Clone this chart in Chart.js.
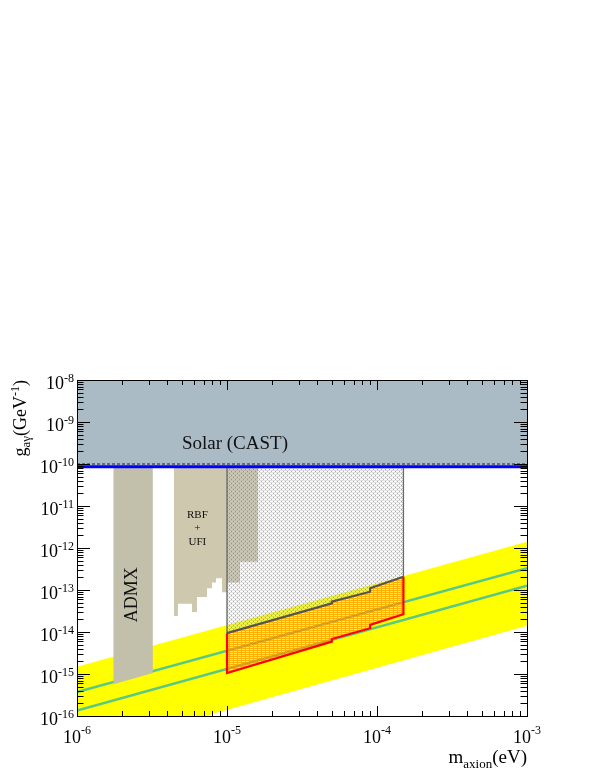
<!DOCTYPE html>
<html>
<head>
<meta charset="utf-8">
<script src="https://cdn.jsdelivr.net/npm/chart.js@4.4.1/dist/chart.umd.min.js"></script>
<style>
  html, body { margin: 0; padding: 0; background: #fff; }
  canvas { display: block; }
</style>
</head>
<body>
<canvas id="chart" width="599" height="776"></canvas>
<script>
// axis ranges (log10 decades)
const xDecades = [-6, -5, -4, -3];
const yDecades = [-16, -15, -14, -13, -12, -11, -10, -9, -8];

// solar limit (CAST)
const castLimit = 8.6e-11;
const castDashed = 1.0e-10;
const castTop = 1e-8;

// QCD axion band + model lines (g ~ m)
const bandMass = [1e-6, 1e-3];
const bandTop = [1.48e-15, 1.41e-12];
const bandBottom = [1.4e-17, 1.4e-14];
const ksvzLine = [3.7e-16, 3.3e-13];
const dfszLine = [1.35e-16, 1.27e-13];

// ADMX exclusion
const admxMass = [1.75e-6, 3.2e-6];
const admxBottom = [5.7e-16, 1.05e-15];

// RBF + UFI exclusion (bin edges, bottom of each bin)
const rbfMass = [4.43e-6, 4.71e-6, 5.84e-6, 6.31e-6, 7.36e-6, 7.94e-6, 8.45e-6, 9.26e-6, 1.0e-5, 1.22e-5, 1.61e-5];
const rbfBottom = [2.4e-14, 4.7e-14, 3.0e-14, 6.8e-14, 1.1e-13, 1.5e-13, 1.9e-13, 8.9e-14, 1.5e-13, 4.7e-13];

// projected sensitivity
const projMass = [1e-5, 5e-5, 5e-5, 9e-5, 9e-5, 1.5e-4];
const projUpper = [9.4e-15, 4.8e-14, 5.3e-14, 9.1e-14, 1.1e-13, 2.07e-13];
const projLower = [1.05e-15, 5.9e-15, 6.8e-15, 1.23e-14, 1.48e-14, 2.65e-14];

// label anchors (data coords)
const solarLabel = { text: "Solar (CAST)", x: 1.13e-5, y: 2.96e-10 };
const admxLabel = { text: "ADMX", x: 2.33e-6, y: 7.7e-14 };
const rbfLabel = { lines: ["RBF", "+", "UFI"], x: 6.35e-6, y: 2.93e-12 };

const SERIF = '"Liberation Serif", "Times New Roman", serif';

const pts = (xs, ys) => xs.map((x, i) => ({ x, y: ys[i] }));

function stairPolygon(edges, bottoms, top) {
  const out = [{ x: edges[0], y: top }, { x: edges[edges.length - 1], y: top }];
  for (let i = bottoms.length - 1; i >= 0; i--) {
    out.push({ x: edges[i + 1], y: bottoms[i] }, { x: edges[i], y: bottoms[i] });
  }
  return out;
}

function makePattern(w, h, paint) {
  const c = document.createElement("canvas");
  c.width = w; c.height = h;
  const g = c.getContext("2d");
  paint(g);
  return g.createPattern(c, "repeat");
}

// hatch fills
const greyDots = makePattern(4, 4, (g) => {
  g.fillStyle = "rgba(170,170,170,0.35)";
  g.fillRect(0, 0, 4, 1);
  g.fillRect(0, 2, 4, 1);
  g.fillStyle = "rgba(105,105,105,0.55)";
  g.fillRect(1, 1, 1, 1);
  g.fillRect(3, 3, 1, 1);
});
const orangeDots = makePattern(4, 2, (g) => {
  g.fillStyle = "rgba(255,150,0,0.75)";
  g.fillRect(0, 0, 4, 1);
  g.fillRect(1, 1, 1, 1);
});

const poly = (label, data, bg, order) => ({
  label, data, order, fill: "shape", backgroundColor: bg,
  borderColor: "rgba(0,0,0,0)", borderWidth: 1, pointRadius: 0,
});
const curve = (label, data, color, width, order, dash) => ({
  label, data, order, fill: false, borderColor: color, borderWidth: width,
  borderDash: dash || [], pointRadius: 0,
});

const admxPoly = [
  { x: admxMass[0], y: castLimit }, { x: admxMass[1], y: castLimit },
  { x: admxMass[1], y: admxBottom[1] }, { x: admxMass[0], y: admxBottom[0] },
];
const upperPts = pts(projMass, projUpper);
const lowerPts = pts(projMass, projLower);
const last = projMass.length - 1;
const boxPoly = [{ x: projMass[0], y: castLimit }, { x: projMass[last], y: castLimit }, ...upperPts.slice().reverse()];
const orangePoly = [...upperPts, ...lowerPts.slice().reverse()];
const redOutline = [upperPts[0], ...lowerPts, upperPts[last]];

const datasets = [
  curve("CAST limit", pts([1e-6, 1e-3], [castLimit, castLimit]), "#0000ff", 3, 0),
  curve("CAST dashed", pts([1e-6, 1e-3], [castDashed, castDashed]), "#1a1a5a", 1, 1, [3, 2]),
  curve("sensitivity upper", upperPts, "#555555", 2.2, 2),
  curve("sensitivity lower", redOutline, "#ff0000", 2.2, 3),
  curve("box left", [{ x: projMass[0], y: castLimit }, upperPts[0]], "#666666", 1.3, 4),
  curve("box right", [{ x: projMass[last], y: castLimit }, upperPts[last]], "#666666", 1.3, 4),
  poly("orange", orangePoly, orangeDots, 5),
  poly("box", boxPoly, greyDots, 6),
  poly("CAST", pts([1e-6, 1e-3, 1e-3, 1e-6], [castLimit, castLimit, castTop, castTop]), "#aabbc6", 7),
  poly("RBF+UFI", stairPolygon(rbfMass, rbfBottom, castLimit), "#cdc8ae", 8),
  poly("ADMX", admxPoly, "#c2bfaa", 8),
  curve("KSVZ", pts(bandMass, ksvzLine), "#58c886", 2.5, 9),
  curve("DFSZ", pts(bandMass, dfszLine), "#58c886", 2.5, 9),
  poly("band", [...pts(bandMass, bandTop), ...pts(bandMass, bandBottom).reverse()], "#ffff00", 10),
];

// draw rich text: parts = [[text, size, shift]], anchor 0..1 along width
function rich(ctx, parts, x, y, anchor) {
  let w = 0;
  parts.forEach(([t, s]) => { ctx.font = `${s}px ${SERIF}`; w += ctx.measureText(t).width; });
  let cx = x - w * anchor;
  ctx.textAlign = "left";
  ctx.textBaseline = "alphabetic";
  parts.forEach(([t, s, dy]) => {
    ctx.font = `${s}px ${SERIF}`;
    ctx.fillText(t, cx, y + dy);
    cx += ctx.measureText(t).width;
  });
}

const framePlugin = {
  id: "frame",
  afterDraw(chart) {
    const { ctx, chartArea: a } = chart;
    const xs = chart.scales.x, ys = chart.scales.y;
    ctx.save();
    ctx.strokeStyle = "#000";
    ctx.lineWidth = 1;
    ctx.beginPath();
    // x ticks, bottom and top, pointing inward
    for (const d of xDecades) {
      for (let k = 1; k <= 9; k++) {
        const v = k * Math.pow(10, d);
        if (v > xs.max * 1.0001) break;
        const px = Math.round(xs.getPixelForValue(v)) + 0.5;
        const len = k === 1 ? 10 : 5;
        ctx.moveTo(px, a.bottom); ctx.lineTo(px, a.bottom - len);
        ctx.moveTo(px, a.top); ctx.lineTo(px, a.top + len);
      }
    }
    for (const d of yDecades) {
      for (let k = 1; k <= 9; k++) {
        const v = k * Math.pow(10, d);
        if (v > ys.max * 1.0001) break;
        const py = Math.round(ys.getPixelForValue(v)) + 0.5;
        const len = k === 1 ? 13 : 6.5;
        ctx.moveTo(a.left, py); ctx.lineTo(a.left + len, py);
        ctx.moveTo(a.right, py); ctx.lineTo(a.right - len, py);
      }
    }
    ctx.stroke();
    ctx.strokeRect(Math.round(a.left) + 0.5, Math.round(a.top) + 0.5, Math.round(a.right - a.left), Math.round(a.bottom - a.top));

    ctx.fillStyle = "#000";
    // tick labels
    for (const d of xDecades) {
      const px = xs.getPixelForValue(Math.pow(10, d));
      rich(ctx, [["10", 18, 0], [String(d), 12, -9]], px, a.bottom + 27, 0.5);
    }
    for (const d of yDecades) {
      const py = ys.getPixelForValue(Math.pow(10, d));
      rich(ctx, [["10", 18, 0], [String(d), 12, -7.5]], a.left - 3, py + 9, 1);
    }
    // axis titles
    rich(ctx, [["m", 19, 0], ["axion", 13, 5], ["(eV)", 19, 0]], a.right, a.bottom + 47, 1);
    ctx.save();
    ctx.translate(a.left - 51, a.top);
    ctx.rotate(-Math.PI / 2);
    rich(ctx, [["g", 18, 0], ["a\u03b3", 13, 4], ["(GeV", 18, 0], ["-1", 12, -7], [")", 18, 0]], 0, 0, 1);
    ctx.restore();

    // region labels
    ctx.fillStyle = "#111";
    ctx.textAlign = "center";
    ctx.textBaseline = "middle";
    ctx.font = `19px ${SERIF}`;
    ctx.fillText(solarLabel.text, xs.getPixelForValue(solarLabel.x), ys.getPixelForValue(solarLabel.y));
    ctx.save();
    ctx.translate(xs.getPixelForValue(admxLabel.x), ys.getPixelForValue(admxLabel.y));
    ctx.rotate(-Math.PI / 2);
    ctx.font = `18px ${SERIF}`;
    ctx.fillText(admxLabel.text, 0, 0);
    ctx.restore();
    ctx.font = `11px ${SERIF}`;
    const rx = xs.getPixelForValue(rbfLabel.x), ry = ys.getPixelForValue(rbfLabel.y);
    rbfLabel.lines.forEach((t, i) => ctx.fillText(t, rx, ry + (i - 1) * 13.6));
    ctx.restore();
  },
};

new Chart(document.getElementById("chart"), {
  type: "line",
  data: { datasets },
  options: {
    responsive: false,
    animation: false,
    devicePixelRatio: 1,
    events: [],
    layout: { padding: { left: 77, right: 72, top: 380, bottom: 60 } },
    elements: { line: { tension: 0 } },
    plugins: { legend: { display: false }, tooltip: { enabled: false } },
    scales: {
      x: { type: "logarithmic", min: 1e-6, max: 1e-3, display: false },
      y: { type: "logarithmic", min: 1e-16, max: 1e-8, display: false },
    },
  },
  plugins: [framePlugin],
});
</script>
</body>
</html>
